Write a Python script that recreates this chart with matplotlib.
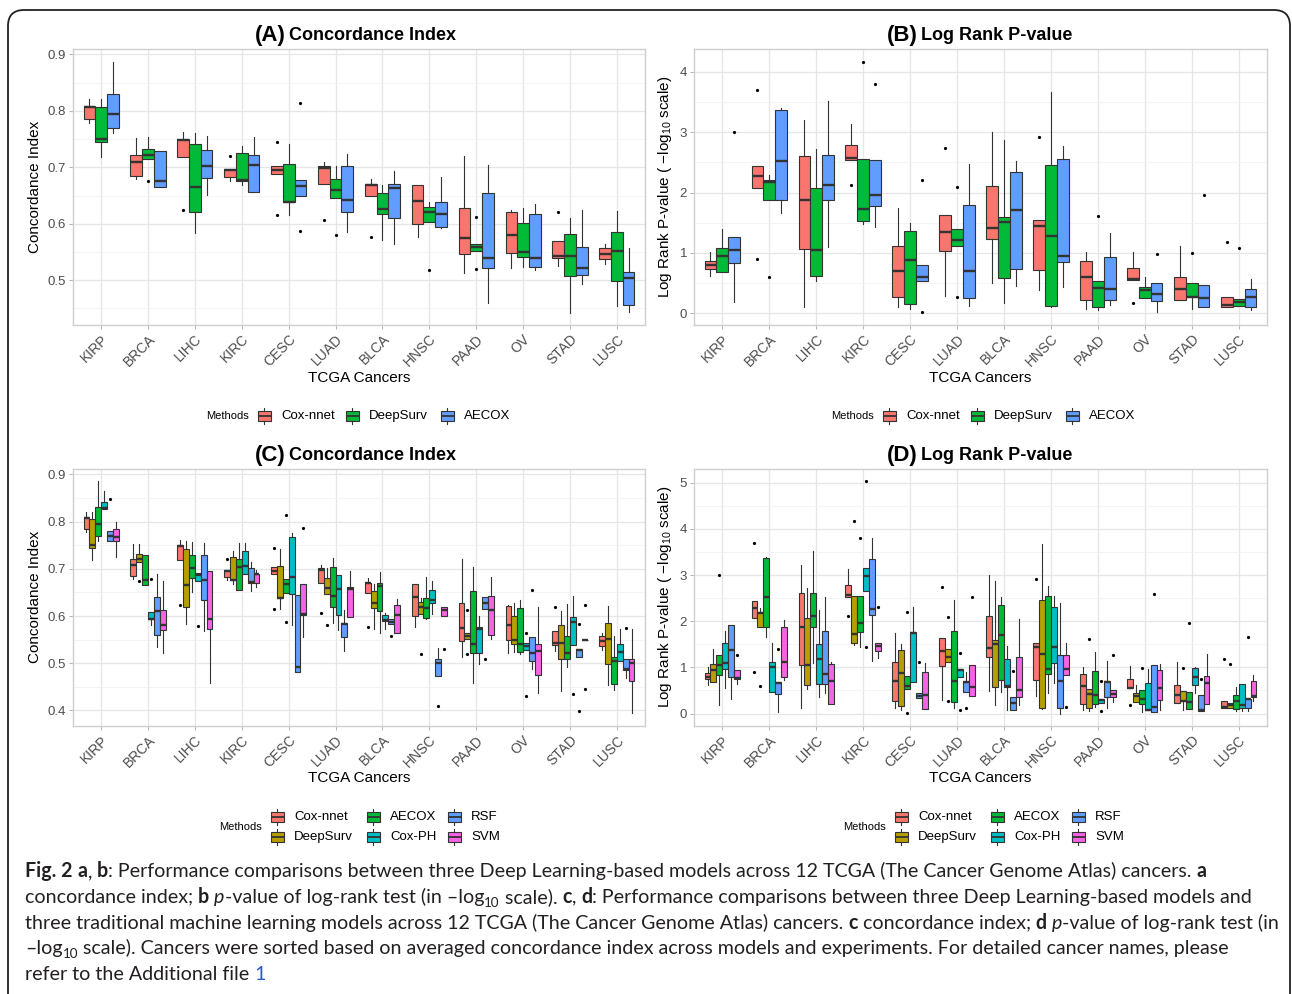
import matplotlib
matplotlib.use('Agg')
import matplotlib.pyplot as plt
from matplotlib.patches import Rectangle, FancyBboxPatch
from matplotlib.font_manager import FontProperties
import numpy as np

plt.rcParams['font.family'] = ['Liberation Sans', 'DejaVu Sans']
plt.rcParams['mathtext.fontset'] = 'custom'
plt.rcParams['mathtext.rm'] = 'Liberation Sans'
plt.rcParams['mathtext.it'] = 'Liberation Sans:italic'
plt.rcParams['mathtext.bf'] = 'Liberation Sans:bold'

cancers = ['KIRP', 'BRCA', 'LIHC', 'KIRC', 'CESC', 'LUAD', 'BLCA', 'HNSC', 'PAAD', 'OV', 'STAD', 'LUSC']
methods3 = ['Cox-nnet', 'DeepSurv', 'AECOX']
methods6 = ['Cox-nnet', 'DeepSurv', 'AECOX', 'Cox-PH', 'RSF', 'SVM']
# ggplot default hues for 3 and 6 groups
colors3 = {'Cox-nnet': '#F8766D', 'DeepSurv': '#00BA38', 'AECOX': '#619CFF'}
colors6 = {'Cox-nnet': '#F8766D', 'DeepSurv': '#B79F00', 'AECOX': '#00BA38',
           'Cox-PH': '#00BFC4', 'RSF': '#619CFF', 'SVM': '#F564E3'}

# box stats per cancer: (lower whisker, q1, median, q3, upper whisker)
# ---- concordance index ----
ci_coxnnet = [(0.778, 0.785, 0.807, 0.809, 0.821), (0.679, 0.685, 0.709, 0.721, 0.752),
              (0.718, 0.718, 0.749, 0.751, 0.762), (0.676, 0.683, 0.695, 0.697, 0.697),
              (0.688, 0.688, 0.696, 0.703, 0.703), (0.671, 0.671, 0.698, 0.702, 0.709),
              (0.649, 0.649, 0.669, 0.670, 0.680), (0.577, 0.600, 0.640, 0.668, 0.668),
              (0.513, 0.547, 0.574, 0.628, 0.720), (0.522, 0.549, 0.581, 0.621, 0.624),
              (0.525, 0.539, 0.543, 0.569, 0.569), (0.528, 0.537, 0.547, 0.557, 0.564)]
ci_coxnnet_out = [[], [], [0.624], [0.720], [0.744, 0.615], [0.607], [0.576], [], [], [], [0.620], []]

ci_deepsurv = [(0.719, 0.744, 0.750, 0.806, 0.821), (0.714, 0.714, 0.721, 0.732, 0.753),
               (0.584, 0.620, 0.665, 0.741, 0.760), (0.668, 0.676, 0.677, 0.726, 0.737),
               (0.615, 0.638, 0.639, 0.706, 0.741), (0.646, 0.646, 0.660, 0.680, 0.702),
               (0.572, 0.618, 0.627, 0.654, 0.668), (0.604, 0.604, 0.620, 0.629, 0.638),
               (0.551, 0.551, 0.558, 0.564, 0.564), (0.524, 0.541, 0.550, 0.601, 0.628),
               (0.442, 0.508, 0.543, 0.582, 0.611), (0.454, 0.498, 0.551, 0.586, 0.622)]
ci_deepsurv_out = [[], [0.675], [], [], [], [0.580], [], [0.519], [0.612, 0.520], [], [], []]

ci_aecox = [(0.760, 0.770, 0.795, 0.830, 0.886), (0.666, 0.666, 0.676, 0.729, 0.729),
            (0.651, 0.681, 0.702, 0.730, 0.756), (0.656, 0.656, 0.704, 0.721, 0.754),
            (0.649, 0.649, 0.667, 0.678, 0.678), (0.585, 0.620, 0.643, 0.703, 0.723),
            (0.565, 0.610, 0.663, 0.671, 0.694), (0.593, 0.595, 0.618, 0.638, 0.683),
            (0.459, 0.522, 0.540, 0.654, 0.704), (0.519, 0.524, 0.540, 0.617, 0.635),
            (0.493, 0.509, 0.521, 0.558, 0.625), (0.443, 0.457, 0.504, 0.514, 0.557)]
ci_aecox_out = [[], [], [], [], [0.814, 0.587], [], [], [], [], [], [], []]

ci_coxph = [(0.827, 0.827, 0.829, 0.841, 0.864), (0.580, 0.593, 0.594, 0.609, 0.609),
            (0.674, 0.674, 0.686, 0.691, 0.691), (0.689, 0.689, 0.706, 0.737, 0.754),
            (0.581, 0.646, 0.682, 0.768, 0.775), (0.570, 0.602, 0.658, 0.686, 0.686),
            (0.572, 0.590, 0.592, 0.602, 0.606), (0.604, 0.627, 0.633, 0.655, 0.674),
            (0.498, 0.521, 0.573, 0.576, 0.599), (0.527, 0.527, 0.536, 0.542, 0.542),
            (0.538, 0.538, 0.587, 0.597, 0.643), (0.504, 0.504, 0.523, 0.540, 0.572)]
ci_coxph_out = [[], [0.679], [0.579], [], [], [], [], [], [], [0.563, 0.431], [0.434], []]

ci_rsf = [(0.758, 0.758, 0.770, 0.780, 0.780), (0.534, 0.559, 0.611, 0.640, 0.689),
          (0.569, 0.633, 0.676, 0.730, 0.754), (0.654, 0.669, 0.672, 0.701, 0.715),
          (0.481, 0.481, 0.492, 0.644, 0.644), (0.526, 0.555, 0.584, 0.585, 0.613),
          (0.584, 0.584, 0.588, 0.594, 0.594), (0.473, 0.473, 0.500, 0.509, 0.532),
          (0.614, 0.614, 0.627, 0.640, 0.640), (0.487, 0.504, 0.521, 0.555, 0.555),
          (0.514, 0.514, 0.529, 0.531, 0.531), (0.469, 0.486, 0.488, 0.510, 0.510)]
ci_rsf_out = [[0.848], [], [], [], [], [], [0.557], [0.409], [0.508], [0.655], [0.584, 0.399], [0.575]]

ci_svm = [(0.725, 0.758, 0.768, 0.785, 0.799), (0.521, 0.570, 0.580, 0.612, 0.675),
          (0.459, 0.572, 0.593, 0.696, 0.696), (0.662, 0.671, 0.688, 0.690, 0.698),
          (0.555, 0.602, 0.605, 0.667, 0.667), (0.598, 0.598, 0.658, 0.662, 0.696),
          (0.565, 0.565, 0.603, 0.623, 0.636), (0.601, 0.601, 0.613, 0.619, 0.619),
          (0.551, 0.560, 0.613, 0.643, 0.683), (0.437, 0.474, 0.526, 0.540, 0.619),
          (0.549, 0.549, 0.549, 0.549, 0.549), (0.395, 0.462, 0.501, 0.510, 0.572)]
ci_svm_out = [[], [], [], [], [0.787], [], [], [0.531], [], [], [0.623, 0.446], []]

# ---- log rank p-value (-log10) ----
lr_coxnnet = [(0.620, 0.741, 0.802, 0.874, 1.012), (2.080, 2.080, 2.279, 2.434, 2.434),
              (0.111, 1.062, 1.881, 2.611, 3.209), (2.534, 2.534, 2.567, 2.788, 3.137),
              (0.111, 0.266, 0.697, 1.107, 1.743), (0.293, 1.040, 1.350, 1.632, 1.632),
              (0.498, 1.223, 1.416, 2.108, 3.010), (0.382, 0.719, 1.450, 1.538, 1.538),
              (0.077, 0.216, 0.598, 0.863, 1.018), (0.553, 0.553, 0.564, 0.747, 1.024),
              (0.221, 0.221, 0.398, 0.609, 1.123), (0.111, 0.111, 0.138, 0.277, 0.277)]
lr_coxnnet_out = [[], [3.701, 0.907], [], [2.124], [], [2.739], [], [2.921], [], [0.177], [], [1.178]]

lr_deepsurv = [(0.692, 0.692, 0.946, 1.079, 1.394), (1.876, 1.876, 2.169, 2.207, 2.290),
               (0.531, 0.614, 1.046, 2.069, 2.722), (1.477, 1.532, 1.726, 2.556, 2.556),
               (0.066, 0.160, 0.885, 1.367, 1.499), (1.112, 1.112, 1.217, 1.400, 1.400),
               (0.177, 0.581, 1.516, 1.599, 2.866), (0.100, 0.127, 1.284, 2.462, 3.674),
               (0.055, 0.111, 0.415, 0.531, 0.531), (0.260, 0.260, 0.387, 0.443, 0.609),
               (0.077, 0.266, 0.271, 0.498, 0.498), (0.127, 0.127, 0.188, 0.238, 0.238)]
lr_deepsurv_out = [[], [0.598], [], [4.171], [], [2.097, 0.277], [], [], [1.610], [], [0.996], [1.079]]

lr_aecox = [(0.183, 0.835, 1.046, 1.272, 1.272), (1.654, 1.870, 2.528, 3.364, 3.402),
            (1.095, 1.876, 2.124, 2.622, 3.519), (1.438, 1.770, 1.964, 2.545, 2.545),
            (0.537, 0.537, 0.598, 0.808, 0.808), (0.127, 0.249, 0.703, 1.787, 2.467),
            (0.459, 0.730, 1.710, 2.346, 2.523), (0.443, 0.858, 0.957, 2.556, 2.766),
            (0.138, 0.216, 0.409, 0.929, 1.328), (0.028, 0.210, 0.321, 0.509, 0.509),
            (0.105, 0.105, 0.260, 0.470, 0.470), (0.055, 0.105, 0.277, 0.398, 0.570)]
lr_aecox_out = [[3.010], [], [], [3.801], [2.207, 0.017], [], [], [], [], [0.985], [1.958], []]

lr_coxph = [(0.558, 0.957, 1.101, 1.522, 1.790), (0.457, 0.457, 1.014, 1.123, 1.529),
            (0.348, 0.645, 1.181, 1.500, 2.246), (2.659, 2.659, 2.971, 3.152, 3.152),
            (0.681, 0.681, 1.739, 1.768, 2.312), (0.797, 0.797, 0.935, 0.957, 0.957),
            (0.072, 0.580, 0.594, 1.174, 1.471), (0.667, 1.087, 1.442, 2.312, 2.558),
            (0.225, 0.225, 0.297, 0.326, 0.326), (0.072, 0.072, 0.080, 0.667, 0.964),
            (0.435, 0.623, 0.783, 0.978, 1.014), (0.058, 0.130, 0.181, 0.638, 0.638)]
lr_coxph_out = [[], [], [], [5.05, 1.449], [], [1.319, 0.072], [], [], [0.710, 0.065], [], [], []]

lr_rsf = [(0.312, 0.783, 1.370, 1.920, 1.920), (0.043, 0.413, 0.667, 0.674, 0.674),
          (0.435, 0.630, 0.855, 1.783, 2.536), (1.145, 2.138, 2.275, 3.355, 3.804),
          (0.333, 0.333, 0.384, 0.435, 0.435), (0.464, 0.464, 0.681, 0.688, 0.891),
          (0.072, 0.072, 0.225, 0.362, 0.362), (0.000, 0.130, 0.710, 1.275, 2.391),
          (0.130, 0.362, 0.688, 0.710, 1.145), (0.036, 0.036, 0.138, 1.043, 1.043),
          (0.065, 0.065, 0.080, 0.399, 0.399), (0.051, 0.130, 0.319, 0.319, 0.319)]
lr_rsf_out = [[], [1.391], [], [], [1.123], [0.116], [0.920], [], [], [2.587], [0.746], [1.667]]

lr_svm = [(0.638, 0.754, 0.775, 0.942, 0.942), (0.725, 0.783, 1.123, 1.884, 2.022),
          (0.196, 0.196, 0.696, 1.072, 1.123), (1.210, 1.362, 1.464, 1.522, 1.522),
          (0.094, 0.094, 0.406, 0.891, 1.094), (0.384, 0.384, 0.572, 1.051, 1.051),
          (0.181, 0.362, 0.500, 1.232, 2.043), (0.833, 0.833, 0.964, 1.275, 1.529),
          (0.254, 0.348, 0.428, 0.500, 0.500), (0.087, 0.304, 0.543, 0.942, 1.072),
          (0.210, 0.210, 0.667, 0.819, 1.283), (0.261, 0.348, 0.370, 0.703, 0.841)]
lr_svm_out = [[1.268], [], [], [2.31], [], [2.52], [], [0.138], [1.275], [], [], []]

ci_data = {'Cox-nnet': (ci_coxnnet, ci_coxnnet_out), 'DeepSurv': (ci_deepsurv, ci_deepsurv_out),
           'AECOX': (ci_aecox, ci_aecox_out), 'Cox-PH': (ci_coxph, ci_coxph_out),
           'RSF': (ci_rsf, ci_rsf_out), 'SVM': (ci_svm, ci_svm_out)}
lr_data = {'Cox-nnet': (lr_coxnnet, lr_coxnnet_out), 'DeepSurv': (lr_deepsurv, lr_deepsurv_out),
           'AECOX': (lr_aecox, lr_aecox_out), 'Cox-PH': (lr_coxph, lr_coxph_out),
           'RSF': (lr_rsf, lr_rsf_out), 'SVM': (lr_svm, lr_svm_out)}

W, H = 1292, 994
fig = plt.figure(figsize=(W / 100, H / 100), dpi=100)


def px_axes(x0, y0, x1, y1):
    return fig.add_axes([x0 / W, 1 - y1 / H, (x1 - x0) / W, (y1 - y0) / H])


def draw_panel(ax, data, names, palette, ylim, yticks, yminor, yfmt):
    k = len(names)
    w = 0.75 / k
    x = np.arange(1, len(cancers) + 1)
    for j, name in enumerate(names):
        boxes, outs = data[name]
        stats = [dict(whislo=b[0], q1=b[1], med=b[2], q3=b[3], whishi=b[4], fliers=o)
                 for b, o in zip(boxes, outs)]
        pos = x + (j - (k - 1) / 2) * w
        ax.bxp(stats, positions=pos, widths=w, patch_artist=True, showcaps=False,
               manage_ticks=False,
               boxprops=dict(facecolor=palette[name], edgecolor='#333333', linewidth=0.8),
               medianprops=dict(color='#333333', linewidth=1.7, solid_capstyle='butt'),
               whiskerprops=dict(color='#333333', linewidth=0.8),
               flierprops=dict(marker='o', markersize=2.3, markerfacecolor='black',
                               markeredgecolor='none'))
    ax.set_xlim(0.4, len(cancers) + 0.6)
    ax.set_ylim(*ylim)
    ax.set_xticks(x)
    ax.set_xticklabels(cancers, rotation=45, ha='right', va='top', rotation_mode='anchor',
                       fontsize=10, color='#4D4D4D')
    ax.set_yticks(yticks)
    ax.set_yticklabels([yfmt.format(v) for v in yticks], fontsize=9.5, color='#4D4D4D')
    ax.set_yticks(yminor, minor=True)
    ax.set_axisbelow(True)
    ax.grid(True, which='major', color='#E6E6E6', linewidth=0.9)
    ax.grid(True, which='minor', axis='y', color='#F2F2F2', linewidth=0.6)
    ax.tick_params(which='major', length=3, width=0.7, color='#B3B3B3', pad=2)
    ax.tick_params(which='minor', length=0)
    for s in ax.spines.values():
        s.set_color('#CFCFCF')
        s.set_linewidth(1.0)


axA = px_axes(73, 49, 645, 325)
axB = px_axes(694, 49, 1267, 325)
axC = px_axes(73, 469, 645, 726)
axD = px_axes(694, 469, 1267, 726)

draw_panel(axA, ci_data, methods3, colors3, (0.4207, 0.9096), [0.5, 0.6, 0.7, 0.8, 0.9],
           [0.45, 0.55, 0.65, 0.75, 0.85], '{:.1f}')
draw_panel(axB, lr_data, methods3, colors3, (-0.194, 4.38), [0, 1, 2, 3, 4],
           [0.5, 1.5, 2.5, 3.5], '{:d}')
draw_panel(axC, ci_data, methods6, colors6, (0.367, 0.9115), [0.4, 0.5, 0.6, 0.7, 0.8, 0.9],
           [0.45, 0.55, 0.65, 0.75, 0.85], '{:.1f}')
draw_panel(axD, lr_data, methods6, colors6, (-0.27, 5.30), [0, 1, 2, 3, 4, 5],
           [0.5, 1.5, 2.5, 3.5, 4.5], '{:d}')

# overlay for titles, labels, legends, caption and frame
ov = fig.add_axes([0, 0, 1, 1])
ov.set_xlim(0, W)
ov.set_ylim(H, 0)
ov.axis('off')
ov.patch.set_alpha(0)

ov.add_patch(FancyBboxPatch((8, 10), 1282, 1010, boxstyle='round,pad=0,rounding_size=16',
                            fc='none', ec='#222222', lw=1.3))

titles = [('(A)', 'Concordance Index', 286, 40.5), ('(B)', 'Log Rank P-value', 918, 40.5),
          ('(C)', 'Concordance Index', 286, 460.5), ('(D)', 'Log Rank P-value', 918, 460.5)]
for tag, txt, xx, yy in titles:
    ov.text(xx, yy + 1, tag, fontsize=16, fontweight='bold', ha='right', va='baseline')
    ov.text(xx + 3, yy, txt, fontsize=13, fontweight='bold', ha='left', va='baseline')

ci_label = 'Concordance Index'
lr_label = 'Log Rank P-value ( $-$log$_{10}$ scale)'
for xx, yy, lab in [(35, 187, ci_label), (665, 187, lr_label), (35, 597, ci_label), (665, 597, lr_label)]:
    ov.text(xx, yy, lab, fontsize=11, rotation=90, ha='center', va='center')
for xx, yy in [(359, 378), (980, 378), (359, 778), (980, 778)]:
    ov.text(xx, yy, 'TCGA Cancers', fontsize=11, ha='center', va='center')


def legend_key(x, y, color):
    ov.add_patch(Rectangle((x - 6.5, y - 5), 13, 10, fc=color, ec='#333333', lw=0.8))
    ov.plot([x - 6.5, x + 6.5], [y, y], color='#333333', lw=1.3, solid_capstyle='butt')
    ov.plot([x, x], [y - 8, y - 5], color='#333333', lw=0.8)
    ov.plot([x, x], [y + 5, y + 8], color='#333333', lw=0.8)


for dx in (0, 625):
    ov.text(249 + dx, 416, 'Methods', fontsize=8, ha='right', va='center')
    for name, kx in zip(methods3, (264, 352, 447)):
        legend_key(kx + dx, 416, colors3[name])
        ov.text(kx + dx + 17, 416, name, fontsize=9.5, ha='left', va='center')

for dx in (0, 624):
    ov.text(262 + dx, 827, 'Methods', fontsize=8, ha='right', va='center')
    for i, name in enumerate(methods6):
        col, row = divmod(i, 2)
        kx = (277, 373, 454)[col] + dx
        ky = (816.5, 837)[row]
        legend_key(kx, ky, colors6[name])
        ov.text(kx + 17, ky, name, fontsize=9.5, ha='left', va='center')

# caption
renderer = fig.canvas.get_renderer()
cap_color = '#231F20'
caption = [
    [("Fig. 2", 'b'), (" ", 'n'), ("a", 'b'), (", ", 'n'), ("b", 'b'),
     (": Performance comparisons between three Deep Learning-based models across 12 TCGA (The Cancer Genome Atlas) cancers. ", 'n'),
     ("a", 'b')],
    [("concordance index; ", 'n'), ("b", 'b'), (" ", 'n'), ("p", 'i'),
     ("-value of log-rank test (in \u2013log", 'n'), ("10", 'sub'), (" scale). ", 'n'),
     ("c", 'b'), (", ", 'n'), ("d", 'b'),
     (": Performance comparisons between three Deep Learning-based models and", 'n')],
    [("three traditional machine learning models across 12 TCGA (The Cancer Genome Atlas) cancers. ", 'n'),
     ("c", 'b'), (" concordance index; ", 'n'), ("d", 'b'), (" ", 'n'), ("p", 'i'),
     ("-value of log-rank test (in", 'n')],
    [("\u2013log", 'n'), ("10", 'sub'),
     (" scale). Cancers were sorted based on averaged concordance index across models and experiments. For detailed cancer names, please", 'n')],
    [("refer to the Additional file ", 'n'), ("1", 'blue')],
]
line_ends = [1233, 1262, 1277, 1235]
cap_font = 'Lato'


def fp_for(style, size):
    if style == 'b':
        return FontProperties(family=cap_font, size=size, weight='bold')
    if style == 'i':
        return FontProperties(family=cap_font, size=size, style='italic')
    if style == 'sub':
        return FontProperties(family=cap_font, size=size * 0.68)
    return FontProperties(family=cap_font, size=size)


def run_width(s, fp):
    t1 = ov.text(0, 0, '|' + s + '|', fontproperties=fp)
    t2 = ov.text(0, 0, '||', fontproperties=fp)
    w = t1.get_window_extent(renderer).width - t2.get_window_extent(renderer).width
    t1.remove()
    t2.remove()
    return w


size0 = 13.0
ratios = []
for line, end in zip(caption[:4], line_ends):
    wl = sum(run_width(t, fp_for(st, size0)) for t, st in line)
    ratios.append((end - 25) / wl)
cap_size = size0 * min(ratios)

for i, line in enumerate(caption):
    x = 25
    y = 877 + i * 25.8
    for t, st in line:
        fp = fp_for(st, cap_size)
        c = '#2B59C3' if st == 'blue' else cap_color
        yy = y + 4 if st == 'sub' else y
        ov.text(x, yy, t, fontproperties=fp, color=c, ha='left', va='baseline')
        x += run_width(t, fp)

fig.savefig('out.png', dpi=100)
